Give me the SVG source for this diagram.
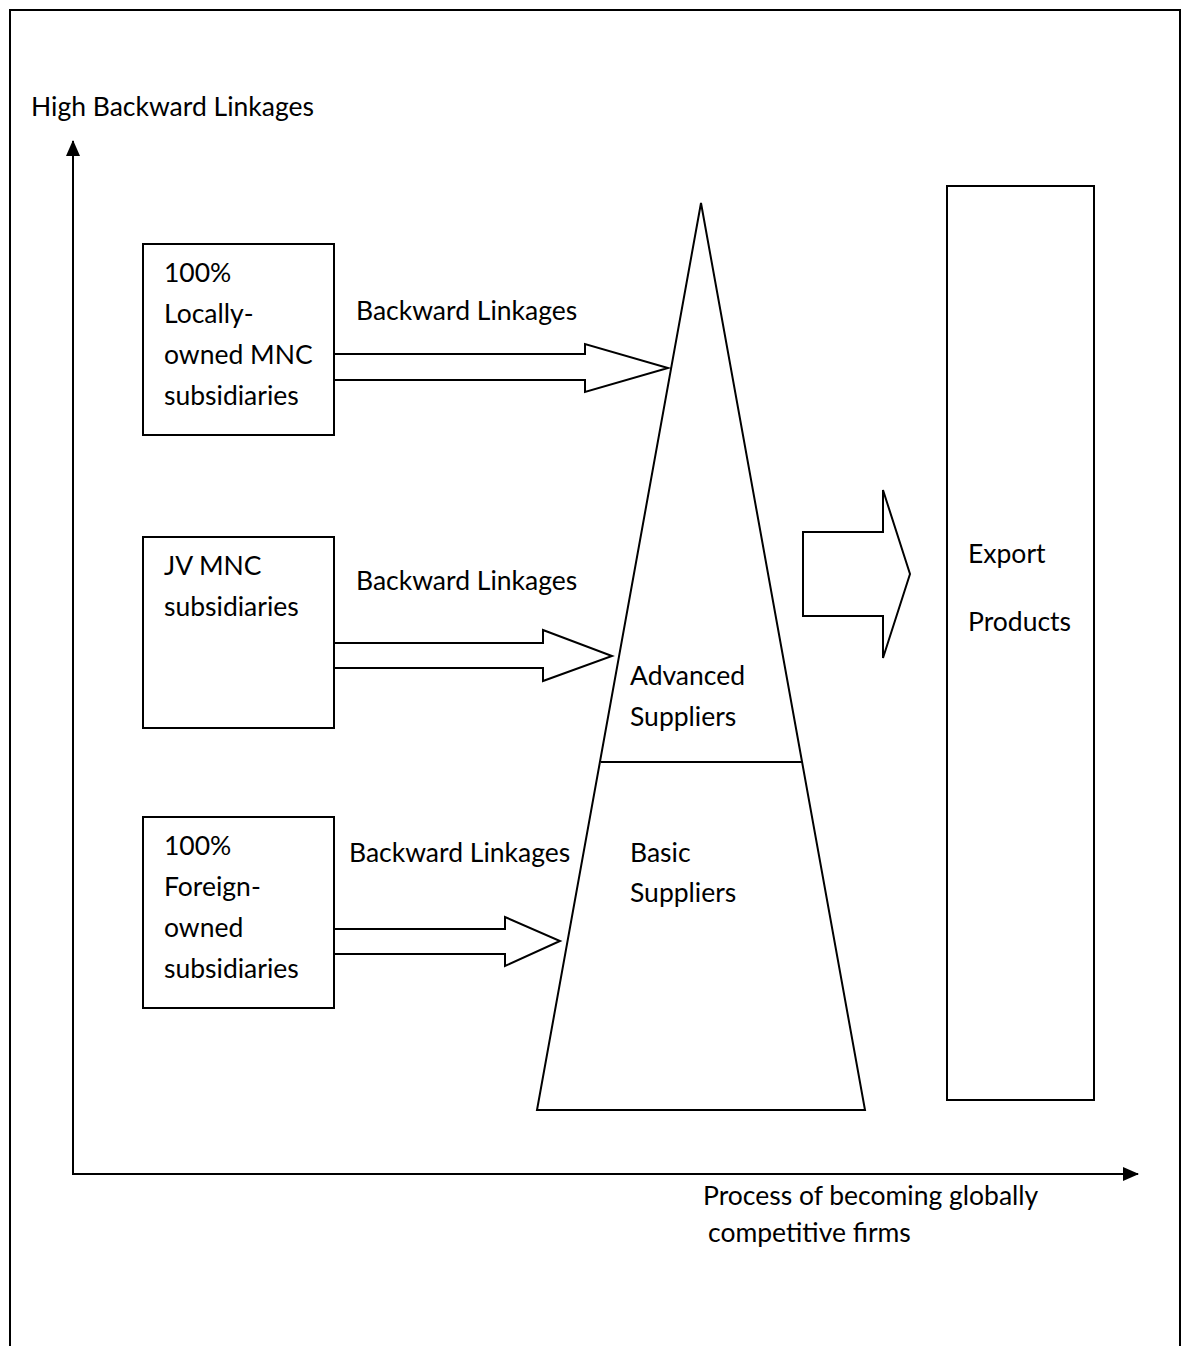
<svg xmlns="http://www.w3.org/2000/svg" width="1184" height="1346" viewBox="0 0 1184 1346">
  <style>
    .ln { fill: none; stroke: #000; stroke-width: 2; }
    .shape { fill: #fff; stroke: #000; stroke-width: 2; stroke-linejoin: miter; }
    text { font-family: Lato, "Open Sans", "Liberation Sans", sans-serif; font-size: 26.5px; fill: #000; }
  </style>
  <defs>
    <marker id="axisHead" viewBox="0 0 16 14" refX="15" refY="7" markerWidth="16" markerHeight="14" markerUnits="userSpaceOnUse" orient="auto">
      <path d="M0,0 L16,7 L0,14 z" fill="#000"/>
    </marker>
  </defs>
  <rect width="1184" height="1346" fill="#fff"/>

  <!-- page frame -->
  <path class="ln" d="M10,1346 V10 H1180 V1346"/>

  <g id="connectors">
    <!-- axes -->
    <line class="ln" x1="73" y1="1174" x2="73" y2="141" marker-end="url(#axisHead)"/>
    <line class="ln" x1="72" y1="1174" x2="1138" y2="1174" marker-end="url(#axisHead)"/>
    <!-- block arrows into the supplier pyramid -->
    <path class="shape" d="M334,354 H585 V344 L668,368 L585,392 V380 H334"/>
    <path class="shape" d="M334,643 H543 V630 L612,656 L543,681 V668 H334"/>
    <path class="shape" d="M334,929 H505 V917 L560,941 L505,966 V954 H334"/>
    <!-- pyramid to exports -->
    <path class="shape" d="M803,532 H883 V490 L910,574 L883,658 V616 H803 Z"/>
  </g>

  <text x="31" y="116">High Backward Linkages</text>

  <g id="locally-owned">
    <rect class="shape" x="143" y="244" width="191" height="191"/>
    <text x="164" y="282">100%</text>
    <text x="164" y="323">Locally-</text>
    <text x="164" y="364">owned MNC</text>
    <text x="164" y="405">subsidiaries</text>
  </g>
  <text x="356" y="320">Backward Linkages</text>

  <g id="jv">
    <rect class="shape" x="143" y="537" width="191" height="191"/>
    <text x="164" y="575">JV MNC</text>
    <text x="164" y="616">subsidiaries</text>
  </g>
  <text x="356" y="590">Backward Linkages</text>

  <g id="foreign-owned">
    <rect class="shape" x="143" y="817" width="191" height="191"/>
    <text x="164" y="855">100%</text>
    <text x="164" y="896">Foreign-</text>
    <text x="164" y="937">owned</text>
    <text x="164" y="978">subsidiaries</text>
  </g>
  <text x="349" y="862">Backward Linkages</text>

  <g id="suppliers">
    <path class="shape" d="M701,203 L865,1110 H537 Z"/>
    <line class="ln" x1="601" y1="762" x2="803" y2="762"/>
    <text x="630" y="685">Advanced</text>
    <text x="630" y="726">Suppliers</text>
    <text x="630" y="862">Basic</text>
    <text x="630" y="902">Suppliers</text>
  </g>

  <g id="exports">
    <rect class="shape" x="947" y="186" width="147" height="914"/>
    <text x="968" y="563">Export</text>
    <text x="968" y="631">Products</text>
  </g>

  <text x="703" y="1205">Process of becoming globally</text>
  <text x="708" y="1242">competitive firms</text>
</svg>
